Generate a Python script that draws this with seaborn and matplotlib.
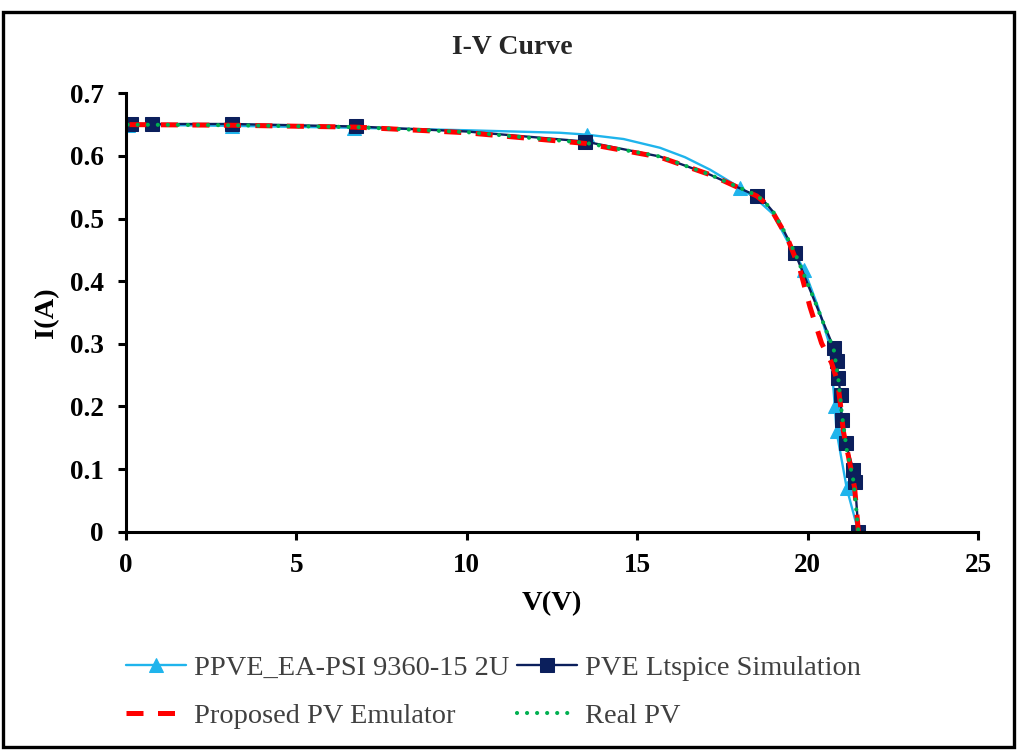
### I-V curve comparison of the PV emulators

import matplotlib
matplotlib.use('Agg')
import matplotlib.pyplot as plt
import pandas as pd
import seaborn as sns
from matplotlib.patches import Rectangle

# PPVE_EA-PSI 9360-15 2U (measured points carry the triangle markers)
ppve_v = [0.05, 3.1, 6.7, 10.0, 12.73, 13.52, 14.6, 15.67, 16.4, 17.14, 17.6, 18.02, 18.5, 18.99, 19.39, 19.9, 20.3, 20.66, 20.80, 20.85, 21.15, 21.49]
ppve_i = [0.650, 0.648, 0.645, 0.641, 0.637, 0.634, 0.627, 0.613, 0.598, 0.578, 0.563, 0.549, 0.531, 0.507, 0.466, 0.418, 0.360, 0.296, 0.200, 0.160, 0.069, 0.0]
ppve_mark = [0, 1, 2, 5, 11, 15, 18, 19, 20, 21]

# PVE Ltspice simulation (square markers)
lts_v = [0.15, 0.75, 3.1, 6.75, 10.0, 13.47, 15.67, 17.14, 18.51, 18.75, 19.0, 19.29, 19.63, 20.77, 20.85, 20.90, 20.97, 21.00, 21.12, 21.34, 21.39, 21.49]
lts_i = [0.651, 0.651, 0.651, 0.647, 0.639, 0.623, 0.599, 0.570, 0.536, 0.526, 0.510, 0.482, 0.445, 0.293, 0.272, 0.245, 0.218, 0.178, 0.141, 0.099, 0.080, 0.0]
lts_mark = [0, 1, 2, 3, 5, 8, 12, 13, 14, 15, 16, 17, 18, 19, 20, 21]

# proposed PV emulator
prop_v = [0.1, 3.1, 6.75, 10.0, 13.47, 15.67, 17.14, 18.51, 18.75, 19.0, 19.39, 19.78, 20.07, 20.41, 20.7, 20.88, 20.97, 21.05, 21.2, 21.38, 21.49]
prop_i = [0.650, 0.649, 0.646, 0.637, 0.620, 0.598, 0.570, 0.536, 0.525, 0.508, 0.471, 0.418, 0.359, 0.301, 0.270, 0.240, 0.200, 0.160, 0.120, 0.070, 0.0]

# real PV
real_v = [0.05, 3.1, 6.75, 10.0, 13.47, 15.67, 17.14, 18.51, 18.75, 19.0, 19.29, 19.63, 20.2, 20.77, 20.9, 21.0, 21.15, 21.35, 21.49]
real_i = [0.650, 0.649, 0.646, 0.638, 0.621, 0.599, 0.570, 0.537, 0.526, 0.510, 0.482, 0.445, 0.370, 0.290, 0.245, 0.190, 0.130, 0.080, 0.0]

x_ticks = [0, 5, 10, 15, 20, 25]
y_ticks = [0, 0.1, 0.2, 0.3, 0.4, 0.5, 0.6, 0.7]
y_ticklabels = ['0', '0.1', '0.2', '0.3', '0.4', '0.5', '0.6', '0.7']

sns.set_theme(style='white')
plt.rcParams['font.family'] = ['Liberation Serif', 'DejaVu Serif']

fig = plt.figure(figsize=(10.17, 7.53), dpi=100)
ax = fig.add_axes([126/1017, 1 - 531.7/753, (978 - 126)/1017, (531.7 - 93.3)/753])

df = pd.DataFrame({'V': ppve_v, 'I': ppve_i})
sns.lineplot(data=df, x='V', y='I', sort=False, estimator=None, ax=ax, color='#1fb4ec', lw=1.7,
             marker='^', markevery=ppve_mark, ms=10, mec='#1fb4ec', label='PPVE_EA-PSI 9360-15 2U')
df = pd.DataFrame({'V': lts_v, 'I': lts_i})
sns.lineplot(data=df, x='V', y='I', sort=False, estimator=None, ax=ax, color='#0b1f5c', lw=1.7,
             marker='s', markevery=lts_mark, ms=10.5, mec='#0b1f5c', label='PVE Ltspice Simulation')
df = pd.DataFrame({'V': prop_v, 'I': prop_i})
sns.lineplot(data=df, x='V', y='I', sort=False, estimator=None, ax=ax, color='#ff0000', lw=3.6,
             dashes=False, linestyle=(0, (3.4, 2.9)), label='Proposed PV Emulator')
df = pd.DataFrame({'V': real_v, 'I': real_i})
sns.lineplot(data=df, x='V', y='I', sort=False, estimator=None, ax=ax, color='#00b050', lw=3.0,
             dashes=False, linestyle=(0, (0.01, 2.4)), label='Real PV')
ax.lines[-1].set_dash_capstyle('round')

ax.set_xlim(0, 25)
ax.set_ylim(0, 0.7)
ax.set_xticks(x_ticks)
ax.set_yticks(y_ticks)
ax.set_yticklabels(y_ticklabels)
for lab in ax.get_xticklabels() + ax.get_yticklabels():
    lab.set_fontweight('bold')
    lab.set_fontsize(19.5)
    lab.set_color('black')
ax.tick_params(axis='both', direction='out', length=6, width=2.2, color='black',
               left=True, bottom=True)
ax.tick_params(axis='y', pad=10)
ax.tick_params(axis='x', pad=9)
for side in ['top', 'right']:
    ax.spines[side].set_visible(False)
for side in ['left', 'bottom']:
    ax.spines[side].set_linewidth(2.2)
    ax.spines[side].set_color('black')
ax.set_xlabel('V(V)', fontsize=20.5, fontweight='bold', color='black', labelpad=10)
ax.set_ylabel('I(A)', fontsize=20.5, fontweight='bold', color='black', labelpad=8)
ax.grid(False)

fig.text(0.5035, 1 - 48/753, 'I-V Curve', ha='center', va='center', fontsize=20, fontweight='bold')

# legend: two rows, matplotlib fills by column
h, l = ax.get_legend_handles_labels()
ax.get_legend().remove()
order = [0, 2, 1, 3]
leg = fig.legend([h[k] for k in order], [l[k] for k in order], ncol=2, loc='center left',
                 bbox_to_anchor=(112/1017, 1 - 692/753), frameon=False, fontsize=20.4,
                 borderpad=0, handlelength=2.1, handletextpad=0.28, columnspacing=0.3,
                 labelspacing=0.8)
for t in leg.get_texts():
    t.set_color('#404040')

fig.patches.append(Rectangle((3/1017, 6/753), 1011/1017, 735/753, transform=fig.transFigure,
                             fill=False, ec='black', lw=2.4))

fig.savefig('out.png', dpi=100)
